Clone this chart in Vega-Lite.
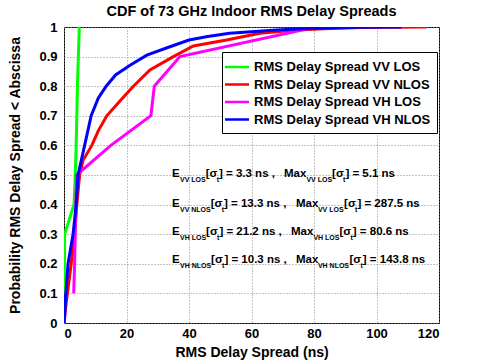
{
  "$schema": "https://vega.github.io/schema/vega-lite/v6.json",
  "width": 375,
  "height": 296,
  "autosize": {"type": "none"},
  "padding": {"left": 64, "top": 27, "right": 46, "bottom": 40},
  "background": "white",
  "title": {"text": "CDF of 73 GHz Indoor RMS Delay Spreads", "fontSize": 14.5, "font": "Liberation Sans", "fontWeight": "bold", "color": "black", "offset": 2},
  "config": {
    "view": {"stroke": "black", "strokeWidth": 1},
    "font": "Liberation Sans",
    "axis": {"labelFont": "Liberation Sans", "labelFontWeight": "bold", "labelFontSize": 13, "labelColor": "black", "labelOverlap": false, "titleFont": "Liberation Sans", "titleFontWeight": "bold", "titleFontSize": 14, "titleColor": "black", "domain": false, "ticks": false, "gridColor": "#888", "gridDash": [1, 2], "gridWidth": 1}
  },
  "datasets": {
    "cdf": [
      {"s": "RMS Delay Spread VV LOS", "x": 0.1, "y": 0.1},
      {"s": "RMS Delay Spread VV LOS", "x": 0.15, "y": 0.2},
      {"s": "RMS Delay Spread VV LOS", "x": 0.2, "y": 0.3},
      {"s": "RMS Delay Spread VV LOS", "x": 3.2, "y": 0.4},
      {"s": "RMS Delay Spread VV LOS", "x": 3.6, "y": 0.5},
      {"s": "RMS Delay Spread VV LOS", "x": 3.9, "y": 0.6},
      {"s": "RMS Delay Spread VV LOS", "x": 4.1, "y": 0.7},
      {"s": "RMS Delay Spread VV LOS", "x": 4.3, "y": 0.8},
      {"s": "RMS Delay Spread VV LOS", "x": 4.6, "y": 0.9},
      {"s": "RMS Delay Spread VV LOS", "x": 4.9, "y": 1.0},
      {"s": "RMS Delay Spread VV NLOS", "x": 0, "y": 0},
      {"s": "RMS Delay Spread VV NLOS", "x": 0.5, "y": 0.05},
      {"s": "RMS Delay Spread VV NLOS", "x": 1.1, "y": 0.1},
      {"s": "RMS Delay Spread VV NLOS", "x": 2.3, "y": 0.2},
      {"s": "RMS Delay Spread VV NLOS", "x": 3.4, "y": 0.3},
      {"s": "RMS Delay Spread VV NLOS", "x": 4.1, "y": 0.4},
      {"s": "RMS Delay Spread VV NLOS", "x": 5.0, "y": 0.5},
      {"s": "RMS Delay Spread VV NLOS", "x": 6.1, "y": 0.55},
      {"s": "RMS Delay Spread VV NLOS", "x": 8.9, "y": 0.6},
      {"s": "RMS Delay Spread VV NLOS", "x": 11, "y": 0.65},
      {"s": "RMS Delay Spread VV NLOS", "x": 13.7, "y": 0.7},
      {"s": "RMS Delay Spread VV NLOS", "x": 17.9, "y": 0.75},
      {"s": "RMS Delay Spread VV NLOS", "x": 22.2, "y": 0.8},
      {"s": "RMS Delay Spread VV NLOS", "x": 27.5, "y": 0.855},
      {"s": "RMS Delay Spread VV NLOS", "x": 35, "y": 0.9},
      {"s": "RMS Delay Spread VV NLOS", "x": 41.4, "y": 0.936},
      {"s": "RMS Delay Spread VV NLOS", "x": 52, "y": 0.956},
      {"s": "RMS Delay Spread VV NLOS", "x": 62.7, "y": 0.979},
      {"s": "RMS Delay Spread VV NLOS", "x": 74.5, "y": 0.99},
      {"s": "RMS Delay Spread VV NLOS", "x": 85, "y": 0.995},
      {"s": "RMS Delay Spread VV NLOS", "x": 95, "y": 0.998},
      {"s": "RMS Delay Spread VV NLOS", "x": 105, "y": 0.999},
      {"s": "RMS Delay Spread VV NLOS", "x": 116, "y": 1.0},
      {"s": "RMS Delay Spread VH LOS", "x": 3.1, "y": 0.1},
      {"s": "RMS Delay Spread VH LOS", "x": 3.4, "y": 0.2},
      {"s": "RMS Delay Spread VH LOS", "x": 3.6, "y": 0.3},
      {"s": "RMS Delay Spread VH LOS", "x": 3.8, "y": 0.4},
      {"s": "RMS Delay Spread VH LOS", "x": 4.0, "y": 0.5},
      {"s": "RMS Delay Spread VH LOS", "x": 15, "y": 0.6},
      {"s": "RMS Delay Spread VH LOS", "x": 27.8, "y": 0.7},
      {"s": "RMS Delay Spread VH LOS", "x": 28.9, "y": 0.8},
      {"s": "RMS Delay Spread VH LOS", "x": 37.1, "y": 0.9},
      {"s": "RMS Delay Spread VH LOS", "x": 80.6, "y": 1.0},
      {"s": "RMS Delay Spread VH NLOS", "x": 0, "y": 0},
      {"s": "RMS Delay Spread VH NLOS", "x": 0.2, "y": 0.02},
      {"s": "RMS Delay Spread VH NLOS", "x": 0.6, "y": 0.1},
      {"s": "RMS Delay Spread VH NLOS", "x": 1.3, "y": 0.2},
      {"s": "RMS Delay Spread VH NLOS", "x": 2.9, "y": 0.3},
      {"s": "RMS Delay Spread VH NLOS", "x": 3.9, "y": 0.4},
      {"s": "RMS Delay Spread VH NLOS", "x": 4.5, "y": 0.5},
      {"s": "RMS Delay Spread VH NLOS", "x": 6.6, "y": 0.6},
      {"s": "RMS Delay Spread VH NLOS", "x": 8.7, "y": 0.7},
      {"s": "RMS Delay Spread VH NLOS", "x": 11, "y": 0.76},
      {"s": "RMS Delay Spread VH NLOS", "x": 13.5, "y": 0.8},
      {"s": "RMS Delay Spread VH NLOS", "x": 16.5, "y": 0.838},
      {"s": "RMS Delay Spread VH NLOS", "x": 21, "y": 0.87},
      {"s": "RMS Delay Spread VH NLOS", "x": 26.5, "y": 0.905},
      {"s": "RMS Delay Spread VH NLOS", "x": 33, "y": 0.93},
      {"s": "RMS Delay Spread VH NLOS", "x": 40, "y": 0.956},
      {"s": "RMS Delay Spread VH NLOS", "x": 46, "y": 0.968},
      {"s": "RMS Delay Spread VH NLOS", "x": 53, "y": 0.979},
      {"s": "RMS Delay Spread VH NLOS", "x": 68, "y": 0.99},
      {"s": "RMS Delay Spread VH NLOS", "x": 80, "y": 0.996},
      {"s": "RMS Delay Spread VH NLOS", "x": 95, "y": 0.999},
      {"s": "RMS Delay Spread VH NLOS", "x": 108, "y": 1.0}
    ],
    "ann": [
      {"x": 34.56, "y": 0.503, "t": "E", "r": "m"},
      {"x": 37.12, "y": 0.503, "t": "VV LOS", "r": "s"},
      {"x": 45.34, "y": 0.503, "t": "[σ", "r": "m"},
      {"x": 48.86, "y": 0.503, "t": "t", "r": "s"},
      {"x": 49.6, "y": 0.503, "t": "]  =  3.3 ns ,", "r": "m"},
      {"x": 70.4, "y": 0.503, "t": "Max", "r": "m"},
      {"x": 77.57, "y": 0.503, "t": "VV LOS", "r": "s"},
      {"x": 85.79, "y": 0.503, "t": "[σ", "r": "m"},
      {"x": 89.31, "y": 0.503, "t": "t", "r": "s"},
      {"x": 90.05, "y": 0.503, "t": "]  =  5.1 ns", "r": "m"},
      {"x": 34.56, "y": 0.402, "t": "E", "r": "m"},
      {"x": 37.12, "y": 0.402, "t": "VV NLOS", "r": "s"},
      {"x": 46.94, "y": 0.402, "t": "[σ", "r": "m"},
      {"x": 50.46, "y": 0.402, "t": "t", "r": "s"},
      {"x": 51.2, "y": 0.402, "t": "]  =  13.3 ns ,", "r": "m"},
      {"x": 74.24, "y": 0.402, "t": "Max", "r": "m"},
      {"x": 81.25, "y": 0.402, "t": "VV LOS", "r": "s"},
      {"x": 89.63, "y": 0.402, "t": "[σ", "r": "m"},
      {"x": 93.15, "y": 0.402, "t": "t", "r": "s"},
      {"x": 93.89, "y": 0.402, "t": "]  =  287.5 ns", "r": "m"},
      {"x": 34.56, "y": 0.307, "t": "E", "r": "m"},
      {"x": 37.12, "y": 0.307, "t": "VH LOS", "r": "s"},
      {"x": 45.47, "y": 0.307, "t": "[σ", "r": "m"},
      {"x": 48.99, "y": 0.307, "t": "t", "r": "s"},
      {"x": 49.73, "y": 0.307, "t": "]  =  21.2 ns ,", "r": "m"},
      {"x": 72.64, "y": 0.307, "t": "Max", "r": "m"},
      {"x": 79.81, "y": 0.307, "t": "VH LOS", "r": "s"},
      {"x": 88.16, "y": 0.307, "t": "[σ", "r": "m"},
      {"x": 91.68, "y": 0.307, "t": "t", "r": "s"},
      {"x": 92.42, "y": 0.307, "t": "]  =  80.6 ns", "r": "m"},
      {"x": 34.56, "y": 0.213, "t": "E", "r": "m"},
      {"x": 37.12, "y": 0.213, "t": "VH NLOS", "r": "s"},
      {"x": 47.07, "y": 0.213, "t": "[σ", "r": "m"},
      {"x": 50.59, "y": 0.213, "t": "t", "r": "s"},
      {"x": 51.33, "y": 0.213, "t": "]  =  10.3 ns ,", "r": "m"},
      {"x": 74.24, "y": 0.213, "t": "Max", "r": "m"},
      {"x": 81.25, "y": 0.213, "t": "VH NLOS", "r": "s"},
      {"x": 91.36, "y": 0.213, "t": "[σ", "r": "m"},
      {"x": 94.88, "y": 0.213, "t": "t", "r": "s"},
      {"x": 95.62, "y": 0.213, "t": "]  =  143.8 ns", "r": "m"}
    ]
  },
  "encoding": {
    "x": {"field": "x", "type": "quantitative", "scale": {"domain": [0, 120], "nice": false},
          "axis": {"values": [0, 20, 40, 60, 80, 100, 120], "labelOverlap": false, "title": "RMS Delay Spread (ns)", "labelPadding": 4, "titlePadding": 5, "grid": true}},
    "y": {"field": "y", "type": "quantitative", "scale": {"domain": [0, 1], "nice": false},
          "axis": {"values": [0, 0.1, 0.2, 0.3, 0.4, 0.5, 0.6, 0.7, 0.8, 0.9, 1], "labelOverlap": false, "labelFlush": false, "format": "~g", "title": "Probability RMS Delay Spread < Abscissa", "labelPadding": 7, "titlePadding": 16, "grid": true}}
  },
  "layer": [
    {
      "data": {"name": "cdf"},
      "mark": {"type": "line", "strokeWidth": 3, "clip": true},
      "encoding": {
        "color": {"field": "s", "type": "nominal",
                  "scale": {"domain": ["RMS Delay Spread VV LOS", "RMS Delay Spread VV NLOS", "RMS Delay Spread VH LOS", "RMS Delay Spread VH NLOS"], "range": ["#00ff00", "#ff0000", "#ff00ff", "#0000ff"]},
                  "legend": {"orient": "none", "legendX": 158, "legendY": 25, "title": null, "strokeColor": "black", "fillColor": "white", "padding": 6, "labelFontSize": 13, "labelFont": "Liberation Sans", "labelFontWeight": "bold", "labelColor": "black", "labelLimit": 300, "symbolType": "M-1.6,0H1.6", "symbolSize": 225, "symbolStrokeWidth": 2.5, "rowPadding": 1.5, "labelOffset": 8, "cornerRadius": 0}},
        "order": {"field": "y", "type": "quantitative"}
      }
    },
    {
      "data": {"name": "ann"},
      "transform": [{"filter": "datum.r === 'm'"}],
      "mark": {"type": "text", "align": "left", "baseline": "middle", "font": "Liberation Sans", "fontWeight": "bold", "fontSize": 11.5, "color": "black"},
      "encoding": {
        "text": {"field": "t"}
      }
    },
    {
      "data": {"name": "ann"},
      "transform": [{"filter": "datum.r === 's'"}],
      "mark": {"type": "text", "align": "left", "baseline": "middle", "dy": 6, "font": "Liberation Sans", "fontWeight": "bold", "fontSize": 7, "color": "black"},
      "encoding": {
        "text": {"field": "t"}
      }
    }
  ]
}
